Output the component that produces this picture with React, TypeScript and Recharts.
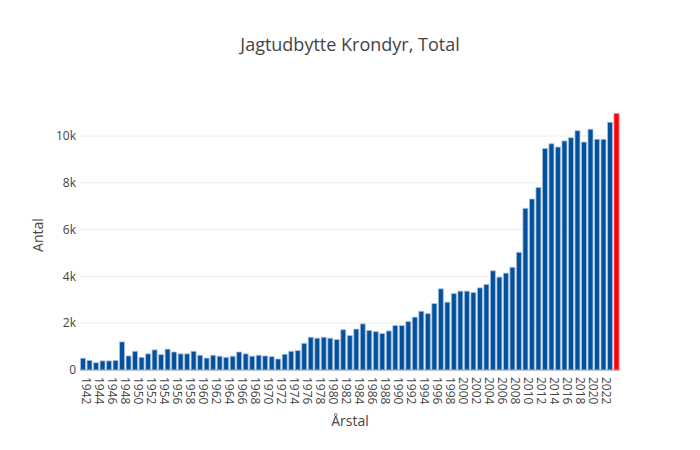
import React from 'react';
import { BarChart, Bar, XAxis, YAxis, CartesianGrid, Cell } from 'recharts';

const firstYear = 1941;
const values: number[] = [
  500, 410, 310, 390, 390, 410, 1200, 600, 800, 540,
  690, 860, 660, 890, 770, 690, 690, 800, 630, 510,
  630, 590, 540, 590, 770, 690, 590, 630, 600, 570,
  470, 670, 800, 830, 1140, 1400, 1360, 1400, 1360, 1300,
  1720, 1470, 1750, 1970, 1690, 1640, 1560, 1670, 1900, 1900,
  2070, 2260, 2510, 2410, 2840, 3470, 2900, 3270, 3370, 3370,
  3310, 3510, 3660, 4240, 3970, 4140, 4390, 5030, 6910, 7310,
  7800, 9470, 9670, 9530, 9790, 9930, 10230, 9740, 10290, 9860,
  9860, 10590, 10960,
];
const years: number[] = values.map((_, i) => firstYear + i);
const yTicks: number[] = [0, 2000, 4000, 6000, 8000, 10000];
const gridValues: number[] = [2000, 4000, 6000, 8000, 10000];

const data = years.map((y, i) => ({ year: y, antal: values[i] }));

const FONT = '"Open Sans", "DejaVu Sans", sans-serif';

const XTick = (props: any) => {
  const { x, y, payload } = props;
  const v = Number(payload.value);
  if (v % 2 !== 0) return <g />;
  return (
    <text
      transform={`translate(${x - 3.5},${y + 7}) rotate(90)`}
      textAnchor="start"
      dominantBaseline="central"
      fontSize={12}
      fill="#444"
      fontFamily={FONT}
    >
      {v}
    </text>
  );
};

export default function App() {
  return (
    <div style={{ position: 'absolute', left: 0, top: 0, width: 700, height: 450, background: '#fff' }}>
      <BarChart
        width={700}
        height={450}
        data={data}
        margin={{ top: 100, right: 80, bottom: 20, left: 40 }}
        barCategoryGap="8%"
      >
        <CartesianGrid vertical={false} stroke="#eee" horizontalValues={gridValues} />
        <XAxis
          dataKey="year"
          type="category"
          interval={0}
          tick={<XTick />}
          tickLine={false}
          tickSize={0}
          tickMargin={0}
          height={60}
          axisLine={{ stroke: '#999' }}
        />
        <YAxis
          type="number"
          domain={[0, 11540]}
          ticks={yTicks}
          width={40}
          tickLine={false}
          axisLine={false}
          tickSize={0}
          tickMargin={4}
          tickFormatter={(v: number) => (v === 0 ? '0' : `${v / 1000}k`)}
          tick={{ fontSize: 12, fill: '#444', fontFamily: FONT }}
        />
        <Bar dataKey="antal" isAnimationActive={false} strokeWidth={0.8}>
          {data.map((d, i) => (
            <Cell
              key={d.year}
              fill={i === data.length - 1 ? '#ff0000' : '#03509b'}
              stroke={i === data.length - 1 ? '#ff7a7a' : '#a8c2e2'}
            />
          ))}
        </Bar>
      </BarChart>
      <svg
        width={700}
        height={450}
        style={{ position: 'absolute', left: 0, top: 0, pointerEvents: 'none' }}
      >
        <text x={350} y={51} textAnchor="middle" fontSize={18} fill="#444" fontFamily={FONT}>
          Jagtudbytte Krondyr, Total
        </text>
        <text
          transform="translate(43,235) rotate(-90)"
          textAnchor="middle"
          fontSize={14}
          fill="#444"
          fontFamily={FONT}
        >
          Antal
        </text>
        <text x={350} y={426} textAnchor="middle" fontSize={14} fill="#444" fontFamily={FONT}>
          Årstal
        </text>
      </svg>
    </div>
  );
}
